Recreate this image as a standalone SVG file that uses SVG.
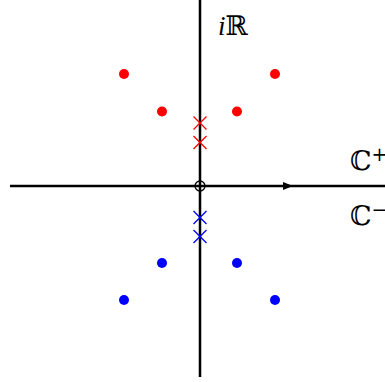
<svg xmlns="http://www.w3.org/2000/svg" width="385" height="382" viewBox="0 0 385 382">
<style>
.axis{stroke:#000;stroke-width:2.5;fill:none}
.lbl{font-family:"Liberation Serif","DejaVu Serif",serif;font-size:27px;fill:#000}
.sup{font-family:"DejaVu Sans",sans-serif;font-size:19px}
.rx{stroke:#ff0000;stroke-width:1.3}
.bx{stroke:#0000ff;stroke-width:1.3}
.rd{fill:#ff0000}
.bd{fill:#0000ff}
</style>
<g id="connectors">
<line class="axis" x1="10" y1="186" x2="385" y2="186"/>
<line class="axis" x1="200" y1="0" x2="200" y2="377"/>
<path d="M283,182 L293,186 L283,190 Z" fill="#000"/>
<circle cx="200" cy="186" r="5" fill="none" stroke="#000" stroke-width="1.3"/>
</g>
<g id="labels">
<text class="lbl" x="218" y="35"><tspan font-style="italic">i</tspan>ℝ</text>
<text class="lbl" x="350" y="170">ℂ<tspan class="sup" dy="-9">+</tspan></text>
<text class="lbl" x="350" y="225">ℂ<tspan class="sup" dy="-9">−</tspan></text>
</g>
<g id="red-poles">
<circle class="rd" cx="124" cy="74" r="5"/>
<circle class="rd" cx="275" cy="74" r="5"/>
<circle class="rd" cx="162" cy="111.5" r="5"/>
<circle class="rd" cx="237" cy="111.5" r="5"/>
<path class="rx" d="M193.5,116.5 L206.5,129.5 M206.5,116.5 L193.5,129.5"/>
<path class="rx" d="M193.5,136 L206.5,149 M206.5,136 L193.5,149"/>
</g>
<g id="blue-poles">
<circle class="bd" cx="162" cy="263" r="5"/>
<circle class="bd" cx="237" cy="263" r="5"/>
<circle class="bd" cx="124" cy="300" r="5"/>
<circle class="bd" cx="275" cy="300" r="5"/>
<path class="bx" d="M193.5,211 L206.5,224 M206.5,211 L193.5,224"/>
<path class="bx" d="M193.5,230 L206.5,243 M206.5,230 L193.5,243"/>
</g>
</svg>
